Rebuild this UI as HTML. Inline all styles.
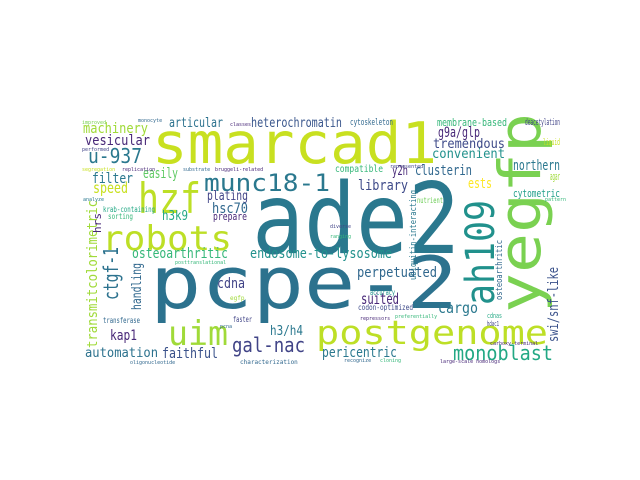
<!DOCTYPE html>
<html><head><meta charset="utf-8"><style>
html,body{margin:0;padding:0;background:#fff;width:640px;height:480px;overflow:hidden}
svg text{font-family:"DejaVu Sans Mono","Liberation Mono",monospace}
</style></head><body>
<svg width="640" height="480" viewBox="0 0 640 480">
<rect x="80" y="110" width="480" height="260" fill="#fff"/>
<g>
<text x="152" y="163" font-size="57" fill="#c8e020" textLength="285" lengthAdjust="spacingAndGlyphs">smarcad1</text>
<text x="252" y="253" font-size="98" fill="#2a788e" textLength="208" lengthAdjust="spacingAndGlyphs">ade2</text>
<text x="150" y="308" font-size="72" fill="#2c728e" textLength="308" lengthAdjust="spacingAndGlyphs">pcpe-2</text>
<text x="138" y="213" font-size="42" fill="#bddf26" textLength="63" lengthAdjust="spacingAndGlyphs">hzf</text>
<text x="102" y="250" font-size="34" fill="#bddf26" textLength="130" lengthAdjust="spacingAndGlyphs">robots</text>
<text x="168" y="345" font-size="34" fill="#a0da39" textLength="60" lengthAdjust="spacingAndGlyphs">uim</text>
<text x="316" y="344" font-size="33" fill="#bddf26" textLength="232" lengthAdjust="spacingAndGlyphs">postgenome</text>
<text x="204" y="191" font-size="24" fill="#2a788e" textLength="126" lengthAdjust="spacingAndGlyphs">munc18-1</text>
<text transform="translate(540,313) rotate(-90)" font-size="58" fill="#7ad151" textLength="200" lengthAdjust="spacingAndGlyphs">yegfp</text>
<text transform="translate(494,305) rotate(-90)" font-size="40" fill="#21918c" textLength="105" lengthAdjust="spacingAndGlyphs">ah109</text>
<text transform="translate(118,300) rotate(-90)" font-size="20" fill="#2c728e" textLength="53" lengthAdjust="spacingAndGlyphs">ctgf-1</text>
<text transform="translate(97,348) rotate(-90)" font-size="14" fill="#a0da39" textLength="148" lengthAdjust="spacingAndGlyphs">transmitcolorimetric</text>
<text transform="translate(141,310) rotate(-90)" font-size="13" fill="#31688e" textLength="47" lengthAdjust="spacingAndGlyphs">handling</text>
<text transform="translate(101,233) rotate(-90)" font-size="11" fill="#482878" textLength="20" lengthAdjust="spacingAndGlyphs">hrs</text>
<text transform="translate(558,342) rotate(-90)" font-size="14" fill="#3b528b" textLength="75" lengthAdjust="spacingAndGlyphs">swi/snf-like</text>
<text transform="translate(416,280) rotate(-90)" font-size="9" fill="#2a788e" textLength="90" lengthAdjust="spacingAndGlyphs">ubiquitin-interacting</text>
<text transform="translate(502,300) rotate(-90)" font-size="9" fill="#31688e" textLength="60" lengthAdjust="spacingAndGlyphs">osteoarthritic</text>
<text x="88" y="163" font-size="20" fill="#2a788e" textLength="54" lengthAdjust="spacingAndGlyphs">u-937</text>
<text x="83" y="133" font-size="14" fill="#a0da39" textLength="65" lengthAdjust="spacingAndGlyphs">machinery</text>
<text x="85" y="145" font-size="14" fill="#482878" textLength="65" lengthAdjust="spacingAndGlyphs">vesicular</text>
<text x="169" y="127" font-size="13" fill="#2c728e" textLength="54" lengthAdjust="spacingAndGlyphs">articular</text>
<text x="251" y="127" font-size="13" fill="#39568c" textLength="91" lengthAdjust="spacingAndGlyphs">heterochromatin</text>
<text x="143" y="178" font-size="14" fill="#5ec962" textLength="35" lengthAdjust="spacingAndGlyphs">easily</text>
<text x="92" y="183" font-size="14" fill="#2a788e" textLength="41" lengthAdjust="spacingAndGlyphs">filter</text>
<text x="93" y="193" font-size="15" fill="#c8e020" textLength="35" lengthAdjust="spacingAndGlyphs">speed</text>
<text x="207" y="200" font-size="13" fill="#414487" textLength="41" lengthAdjust="spacingAndGlyphs">plating</text>
<text x="212" y="213" font-size="14" fill="#31688e" textLength="36" lengthAdjust="spacingAndGlyphs">hsc70</text>
<text x="213" y="220" font-size="11" fill="#482878" textLength="34" lengthAdjust="spacingAndGlyphs">prepare</text>
<text x="162" y="220" font-size="13" fill="#22a884" textLength="26" lengthAdjust="spacingAndGlyphs">h3k9</text>
<text x="103" y="212" font-size="8" fill="#22a884" textLength="52" lengthAdjust="spacingAndGlyphs">krab-containing</text>
<text x="108" y="219" font-size="8" fill="#35b779" textLength="25" lengthAdjust="spacingAndGlyphs">sorting</text>
<text x="132" y="258" font-size="14" fill="#35b779" textLength="96" lengthAdjust="spacingAndGlyphs">osteoarthritic</text>
<text x="250" y="258" font-size="14" fill="#21918c" textLength="142" lengthAdjust="spacingAndGlyphs">endosome-to-lysosome</text>
<text x="217" y="288" font-size="14" fill="#414487" textLength="28" lengthAdjust="spacingAndGlyphs">cdna</text>
<text x="110" y="340" font-size="14" fill="#482878" textLength="27" lengthAdjust="spacingAndGlyphs">kap1</text>
<text x="270" y="335" font-size="13" fill="#2a788e" textLength="33" lengthAdjust="spacingAndGlyphs">h3/h4</text>
<text x="85" y="357" font-size="13" fill="#2c728e" textLength="73" lengthAdjust="spacingAndGlyphs">automation</text>
<text x="162" y="358" font-size="14" fill="#3b528b" textLength="56" lengthAdjust="spacingAndGlyphs">faithful</text>
<text x="232" y="352" font-size="20" fill="#414487" textLength="73" lengthAdjust="spacingAndGlyphs">gal-nac</text>
<text x="103" y="323" font-size="8" fill="#31688e" textLength="37" lengthAdjust="spacingAndGlyphs">transferase</text>
<text x="233" y="322" font-size="8" fill="#414487" textLength="19" lengthAdjust="spacingAndGlyphs">faster</text>
<text x="357" y="277" font-size="14" fill="#31688e" textLength="80" lengthAdjust="spacingAndGlyphs">perpetuated</text>
<text x="361" y="304" font-size="15" fill="#482878" textLength="38" lengthAdjust="spacingAndGlyphs">suited</text>
<text x="370" y="295" font-size="8" fill="#21918c" textLength="25" lengthAdjust="spacingAndGlyphs">accuracy</text>
<text x="358" y="310" font-size="8" fill="#3e4a89" textLength="55" lengthAdjust="spacingAndGlyphs">codon-optimized</text>
<text x="438" y="313" font-size="15" fill="#2a788e" textLength="40" lengthAdjust="spacingAndGlyphs">cargo</text>
<text x="487" y="318" font-size="7" fill="#22a884" textLength="15" lengthAdjust="spacingAndGlyphs">cdnas</text>
<text x="487" y="326" font-size="7" fill="#414487" textLength="12" lengthAdjust="spacingAndGlyphs">hdac1</text>
<text x="453" y="360" font-size="20" fill="#22a884" textLength="100" lengthAdjust="spacingAndGlyphs">monoblast</text>
<text x="322" y="357" font-size="14" fill="#2a788e" textLength="75" lengthAdjust="spacingAndGlyphs">pericentric</text>
<text x="438" y="137" font-size="14" fill="#482878" textLength="42" lengthAdjust="spacingAndGlyphs">g9a/glp</text>
<text x="433" y="148" font-size="13" fill="#3e4a89" textLength="72" lengthAdjust="spacingAndGlyphs">tremendous</text>
<text x="432" y="158" font-size="13" fill="#21918c" textLength="73" lengthAdjust="spacingAndGlyphs">convenient</text>
<text x="437" y="126" font-size="11" fill="#35b779" textLength="70" lengthAdjust="spacingAndGlyphs">membrane-based</text>
<text x="350" y="125" font-size="9" fill="#31688e" textLength="43" lengthAdjust="spacingAndGlyphs">cytoskeleton</text>
<text x="525" y="125" font-size="9" fill="#414487" textLength="35" lengthAdjust="spacingAndGlyphs">deacetylation</text>
<text x="335" y="172" font-size="10" fill="#35b779" textLength="48" lengthAdjust="spacingAndGlyphs">compatible</text>
<text x="392" y="175" font-size="13" fill="#482878" textLength="16" lengthAdjust="spacingAndGlyphs">y2h</text>
<text x="415" y="175" font-size="14" fill="#31688e" textLength="57" lengthAdjust="spacingAndGlyphs">clusterin</text>
<text x="513" y="170" font-size="14" fill="#2a788e" textLength="47" lengthAdjust="spacingAndGlyphs">northern</text>
<text x="468" y="188" font-size="14" fill="#fde725" textLength="24" lengthAdjust="spacingAndGlyphs">ests</text>
<text x="358" y="190" font-size="14" fill="#3e4a89" textLength="50" lengthAdjust="spacingAndGlyphs">library</text>
<text x="513" y="197" font-size="11" fill="#1f9e89" textLength="47" lengthAdjust="spacingAndGlyphs">cytometric</text>
<text x="550" y="180" font-size="11" fill="#a0da39" textLength="10" lengthAdjust="spacingAndGlyphs">agar</text>
<text x="417" y="203" font-size="8" fill="#6ece58" textLength="26" lengthAdjust="spacingAndGlyphs">nutrient</text>
<text x="543" y="145" font-size="9" fill="#c8e020" textLength="17" lengthAdjust="spacingAndGlyphs">liquid</text>
<text x="82" y="124" font-size="5" fill="#7ad151">improved</text>
<text x="138" y="122" font-size="5" fill="#31688e">monocyte</text>
<text x="230" y="126" font-size="5" fill="#482878">classes</text>
<text x="82" y="151" font-size="5" fill="#414487">performed</text>
<text x="82" y="171" font-size="5" fill="#c8e020">segregation</text>
<text x="122" y="171" font-size="5" fill="#482878">replication</text>
<text x="183" y="171" font-size="5" fill="#31688e">substrate</text>
<text x="215" y="171" font-size="5" fill="#482878">bruggeli-related</text>
<text x="83" y="201" font-size="5" fill="#2a788e">analyze</text>
<text x="175" y="264" font-size="5" fill="#35b779">posttranslational</text>
<text x="130" y="364" font-size="5" fill="#31688e">oligonucleotide</text>
<text x="240" y="364" font-size="6" fill="#31688e">characterization</text>
<text x="440" y="363" font-size="5" fill="#482878">large-scale homologs</text>
<text x="545" y="201" font-size="5" fill="#35b779">pattern</text>
<text x="344" y="362" font-size="5" fill="#31688e">recognize</text>
<text x="380" y="362" font-size="5" fill="#35b779">cloning</text>
<text x="390" y="168" font-size="5" fill="#414487">represented</text>
<text x="330" y="228" font-size="5" fill="#414487">diverse</text>
<text x="330" y="238" font-size="5" fill="#35b779">ranging</text>
<text x="360" y="320" font-size="5" fill="#482878">repressors</text>
<text x="220" y="328" font-size="5" fill="#31688e">pcna</text>
<text x="230" y="300" font-size="6" fill="#a0da39">egfp</text>
<text x="395" y="318" font-size="5" fill="#35b779">preferentially</text>
<text x="490" y="345" font-size="5" fill="#482878">carboxy-terminal</text>
</g>
</svg>
</body></html>
